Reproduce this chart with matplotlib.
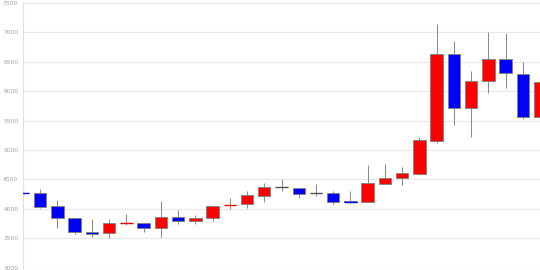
import matplotlib
matplotlib.use("Agg")
import matplotlib.pyplot as plt
import numpy as np

opens  = [4265, 4262, 4041, 3837, 3609, 3582, 3760, 3762, 3667, 3864, 3796, 3842, 4060, 4076, 4222,
          4364, 4347, 4262, 4262, 4125, 4109, 4426, 4517, 4596, 5157, 6631, 5718, 6178, 6546, 6291, 5555]
closes = [4260, 4034, 3837, 3609, 3575, 3762, 3764, 3667, 3864, 3796, 3842, 4046, 4066, 4233, 4364,
          4364, 4255, 4262, 4120, 4115, 4432, 4522, 4608, 5164, 6631, 5718, 6172, 6546, 6308, 5555, 6149]
highs  = [4442, 4335, 4148, 3837, 3825, 3820, 3905, 3762, 4131, 3978, 3887, 4046, 4177, 4301, 4432,
          4505, 4358, 4426, 4301, 4301, 4744, 4766, 4704, 5225, 7142, 6858, 6343, 7010, 6993, 6490, 6250]
lows   = [4182, 4017, 3677, 3570, 3524, 3507, 3723, 3599, 3524, 3740, 3740, 3796, 3990, 4007, 4109,
          4306, 4187, 4222, 4085, 4097, 4109, 4426, 4403, 4596, 5113, 5424, 5215, 5973, 6058, 5521, 5500]
yticks = [3000, 3500, 4000, 4500, 5000, 5500, 6000, 6500, 7000, 7500]

UP = "#ff0000"
DOWN = "#0000ff"
FLAT = "#666666"

fig = plt.figure(figsize=(5.4, 2.7), dpi=100)
ax = fig.add_axes([23 / 540, 2.5 / 270, 1 - 23 / 540, 264.5 / 270])

x = np.arange(len(opens))
o = np.array(opens, dtype=float)
c = np.array(closes, dtype=float)
h = np.array(highs, dtype=float)
l = np.array(lows, dtype=float)

colors = [UP if cc > oo else (DOWN if cc < oo else FLAT) for oo, cc in zip(o, c)]

ax.vlines(x, l, h, color="#8c8c8c", linewidth=0.75, zorder=2)
bottoms = np.minimum(o, c)
heights = np.abs(c - o)
ax.bar(x, heights, bottom=bottoms, width=0.72, color=colors,
       edgecolor="#808080", linewidth=0.6, zorder=3)
# dashes for near-flat candles
for xi, oo, cc, col in zip(x, o, c, colors):
    if abs(cc - oo) < 15:
        ax.hlines((oo + cc) / 2, xi - 0.36, xi + 0.36, color=col if col != FLAT else "#555555",
                  linewidth=1.0, zorder=4)

ax.set_xlim(0, 30)
ax.set_ylim(3000, 7500)
ax.set_yticks(yticks)
ax.set_yticklabels([str(t) for t in yticks], fontsize=4.3, color="#a0a0a0")
ax.tick_params(axis="y", length=0, pad=3.4)
ax.set_xticks([])
ax.grid(axis="y", color="#e8e8e8", linewidth=0.8, zorder=0)
ax.set_axisbelow(True)
for s in ["top", "right", "bottom"]:
    ax.spines[s].set_visible(False)
ax.spines["left"].set_color("#e0e0e0")
ax.spines["left"].set_linewidth(0.8)

fig.savefig("out.png", dpi=100)
